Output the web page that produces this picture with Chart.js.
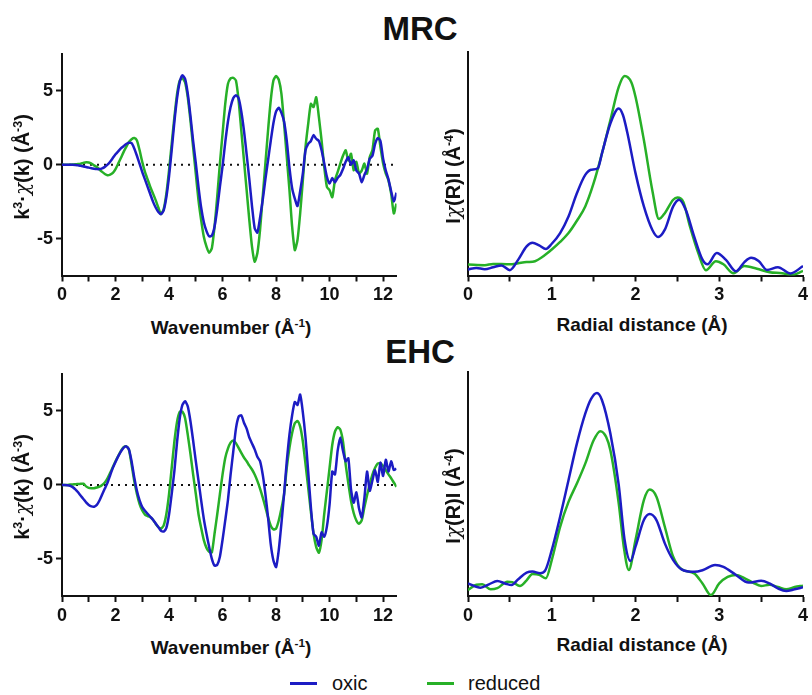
<!DOCTYPE html>
<html>
<head>
<meta charset="utf-8">
<script src="https://cdn.jsdelivr.net/npm/chart.js@4.4.1/dist/chart.umd.min.js"></script>
<style>
  html, body { margin: 0; padding: 0; background: #fff; }
  #page { position: relative; width: 812px; height: 695px; font-family: "Liberation Sans", Arial, sans-serif; color: #111; overflow: hidden; }
  #page canvas { position: absolute; }
  .title { position: absolute; font-weight: bold; font-size: 33px; transform: translate(-50%, -50%); white-space: nowrap; }
  .xlab { position: absolute; font-weight: bold; font-size: 19px; transform: translate(-50%, -50%); white-space: nowrap; }
  .ylab { position: absolute; font-weight: bold; font-size: 20px; transform: translate(-50%, -50%) rotate(-90deg); white-space: nowrap; }
  sup { font-size: 0.62em; vertical-align: 0.6em; line-height: 0; }
  .chi { font-family: "DejaVu Serif", serif; font-style: italic; font-weight: normal; }
  .leg-line { position: absolute; height: 3px; }
  .leg-text { position: absolute; font-size: 20px; transform: translateY(-50%); }
</style>
</head>
<body>
<div id="page">
  <div class="title" style="left:420px; top:29px;">MRC</div>
  <div class="title" style="left:420px; top:352px;">EHC</div>

  <canvas id="mrcK" width="410" height="270" style="left:0; top:40px;"></canvas>
  <canvas id="mrcR" width="402" height="270" style="left:410px; top:40px;"></canvas>
  <canvas id="ehcK" width="410" height="270" style="left:0; top:360px;"></canvas>
  <canvas id="ehcR" width="402" height="270" style="left:410px; top:360px;"></canvas>

  <div class="ylab" style="left:22px; top:167px;">k<sup>3</sup>·<span class="chi">χ</span>(k) (Å<sup>-3</sup>)</div>
  <div class="ylab" style="left:453px; top:176px;">I<span class="chi">χ</span>(R)I (Å<sup>-4</sup>)</div>
  <div class="ylab" style="left:22px; top:487px;">k<sup>3</sup>·<span class="chi">χ</span>(k) (Å<sup>-3</sup>)</div>
  <div class="ylab" style="left:453px; top:496px;">I<span class="chi">χ</span>(R)I (Å<sup>-4</sup>)</div>

  <div class="xlab" style="left:231px; top:328px;">Wavenumber (Å<sup>-1</sup>)</div>
  <div class="xlab" style="left:642px; top:325px;">Radial distance (Å)</div>
  <div class="xlab" style="left:231px; top:648px;">Wavenumber (Å<sup>-1</sup>)</div>
  <div class="xlab" style="left:642px; top:645px;">Radial distance (Å)</div>

  <div class="leg-line" style="left:290px; top:682px; width:27px; background:#1c1cc4;"></div>
  <div class="leg-text" style="left:332px; top:683px;">oxic</div>
  <div class="leg-line" style="left:427px; top:682px; width:27px; background:#27b027;"></div>
  <div class="leg-text" style="left:468px; top:683px;">reduced</div>
</div>

<script>
// k-space grid shared by both χ(k) panels: 0 .. 12.5 Å⁻¹ in 0.1 steps
const kGrid = Array.from({ length: 126 }, (_, i) => i / 10);
const kTicks = [0, 1, 2, 3, 4, 5, 6, 7, 8, 9, 10, 11, 12];
const kYTicks = [-5, 0, 5];
const rTicks = [0, 0.5, 1, 1.5, 2, 2.5, 3, 3.5, 4];

// MRC, k³·χ(k)
const mrcOxic = [
  0, 0, 0, 0, 0, -0.02, -0.05, -0.08, -0.12, -0.16,
  -0.2, -0.25, -0.28, -0.3, -0.3, -0.25, -0.15, 0.0, 0.2, 0.45,
  0.7, 0.9, 1.1, 1.25, 1.4, 1.48, 1.45, 1.1, 0.6, 0.05,
  -0.5, -1.0, -1.5, -2.0, -2.5, -2.9, -3.2, -3.35, -3.1, -2.2,
  -0.8, 1.0, 2.9, 4.5, 5.6, 6.05, 5.8, 4.8, 3.3, 1.6,
  0.1, -1.5, -2.9, -3.9, -4.5, -4.85, -4.8, -4.2, -3.0, -1.5,
  -0.1, 1.5, 2.9, 3.9, 4.5, 4.7, 4.5, 3.6, 2.3, 0.7,
  -1.0, -2.8, -4.3, -4.6, -3.6, -2.4, -1.0, 0.3, 1.6, 2.8,
  3.6, 3.85, 3.5, 2.9, 1.6, -0.2, -1.6, -2.3, -2.8, -1.8,
  -0.6, 0.97, 1.4, 1.6, 2.0, 1.75, 1.6, 0.97, 0.07, -0.83,
  -1.28, -0.9, -1.2, -0.9, -0.7, -0.3, 0.2, 0.5, 0.0, 0.3,
  -0.4, -0.6, -1.2, -0.7, -0.3, 0.4, 0.6, 1.4, 1.8, 1.6,
  0.4, -0.4, -1.0, -1.8, -2.5, -1.9
];
const mrcReduced = [
  0, 0, 0, 0, 0.01, 0.02, 0.04, 0.07, 0.12, 0.16,
  0.14, 0.07, -0.05, -0.16, -0.33, -0.49, -0.63, -0.72, -0.68, -0.56,
  -0.3, 0.07, 0.45, 0.85, 1.2, 1.53, 1.72, 1.8, 1.64, 0.97,
  0.18, -0.49, -1.0, -1.51, -1.95, -2.4, -2.9, -3.35, -3.0, -1.96,
  -0.38, 1.42, 3.21, 4.79, 5.69, 5.84, 5.57, 4.56, 2.99, 1.19,
  -0.61, -2.4, -3.75, -4.88, -5.55, -5.96, -5.66, -4.2, -2.18, 0.07,
  2.09, 4.11, 5.46, 5.84, 5.87, 5.69, 4.34, 2.31, 0.29, -1.73,
  -3.75, -5.55, -6.56, -6.0, -4.43, -2.18, 0.07, 2.31, 4.34, 5.69,
  6.0, 5.75, 4.79, 2.76, 0.52, -1.73, -4.2, -5.78, -5.1, -3.3,
  -1.06, 1.19, 2.76, 4.11, 3.9, 4.56, 3.21, 1.64, -0.16, -1.51,
  -1.73, -2.2, -1.06, -0.5, 0.07, 0.6, 0.97, 0.29, 0.74, -0.38,
  0.2, -0.61, -0.4, 0.07, -0.61, 0.52, 0.97, 2.31, 2.43, 1.19,
  0.07, -0.61, -1.06, -1.96, -3.3, -2.63
];

// EHC, k³·χ(k)
const ehcOxic = [
  0, 0, -0.02, -0.06, -0.15, -0.3, -0.5, -0.73, -0.95, -1.18,
  -1.35, -1.45, -1.47, -1.35, -1.05, -0.65, -0.25, 0.15, 0.65, 1.15,
  1.55, 1.93, 2.25, 2.5, 2.6, 2.4, 1.6, 0.5, -0.4, -1.05,
  -1.5, -1.75, -1.95, -2.15, -2.35, -2.6, -2.85, -3.1, -3.15, -2.9,
  -2.0, -0.6, 0.95, 2.9, 4.5, 5.4, 5.65, 5.3, 4.3, 3.0,
  1.6, 0.3, -1.05, -2.3, -3.3, -4.2, -5.0, -5.45, -5.4, -4.85,
  -3.7, -2.4, -1.05, 0.7, 2.25, 3.8, 4.6, 4.7, 4.2, 3.8,
  3.2, 2.8, 2.4, 1.9, 1.6, 0.7, -0.6, -2.2, -4.0, -5.1,
  -5.55, -4.4, -2.6, -0.6, 1.6, 3.4, 4.7, 5.6, 5.4, 6.1,
  4.9, 3.2, 0.9, -1.5, -3.3, -3.5, -4.1, -3.2, -3.5, -2.8,
  -1.3, 0.9, 0.7, 2.3, 3.2, 2.3, 1.6, 1.8, -0.3, -1.2,
  -0.5, -1.6, -2.2, -0.9, 0.9, -0.4, 0.3, 1.0, 0.2, 1.5,
  0.6, 1.7, 0.9, 1.6, 1.0, 1.1
];
const ehcReduced = [
  0, 0, 0, 0.02, 0.03, 0.05, 0.06, 0.07, 0.08, -0.1,
  -0.2, -0.22, -0.22, -0.18, -0.12, 0.0, 0.16, 0.45, 0.82, 1.2,
  1.6, 1.95, 2.3, 2.55, 2.6, 2.38, 1.38, 0.27, -0.62, -1.3,
  -1.73, -2.0, -2.1, -2.18, -2.35, -2.62, -2.85, -2.96, -2.73, -1.96,
  -0.62, 1.16, 2.93, 4.27, 4.93, 4.95, 4.5, 3.38, 2.1, 0.71,
  -0.6, -1.96, -2.9, -3.73, -4.25, -4.51, -4.55, -3.29, -2.0, -0.62,
  0.71, 1.82, 2.45, 2.85, 3.0, 2.82, 2.5, 2.16, 1.85, 1.6,
  1.3, 1.04, 0.7, 0.27, -0.25, -0.84, -1.5, -2.18, -2.75, -3.0,
  -2.95, -2.4, -1.6, -0.62, 1.16, 2.5, 3.5, 4.16, 4.31, 3.93,
  2.93, 1.4, -0.18, -1.8, -3.29, -4.2, -4.58, -3.73, -1.96, -0.4,
  1.16, 2.71, 3.6, 3.89, 3.73, 2.93, 1.38, 0.1, -1.07, -1.9,
  -2.4, -2.62, -2.4, -1.51, -0.7, 0.04, 0.7, 1.16, 1.45, 1.45,
  1.27, 1.0, 0.71, 0.45, 0.16, -0.13
];

// MRC, |χ(R)| (arbitrary units, axis 0..10)
const mrcOxicR = [0, 0.1, 0.2, 0.3, 0.4, 0.5, 0.6, 0.7, 0.77, 0.85, 0.93, 1.0, 1.1, 1.2, 1.3, 1.4, 1.47, 1.55, 1.6, 1.7, 1.8, 1.85, 1.9, 2.0, 2.1, 2.2, 2.27, 2.35, 2.45, 2.52, 2.6, 2.7, 2.8, 2.86, 2.97, 3.08, 3.2, 3.3, 3.38, 3.47, 3.57, 3.7, 3.85, 4.0];
const mrcOxicMag = [0.27, 0.34, 0.28, 0.37, 0.45, 0.24, 0.71, 1.3, 1.46, 1.35, 1.19, 1.42, 1.9, 2.64, 3.68, 4.5, 4.73, 4.8, 5.47, 6.8, 7.47, 7.18, 6.43, 4.58, 3.09, 2.05, 1.72, 2.05, 3.09, 3.39, 2.94, 1.75, 0.71, 0.5, 1.01, 0.7, 0.19, 0.6, 0.79, 0.65, 0.25, 0.37, 0.09, 0.42];
const mrcReducedR = [0, 0.2, 0.3, 0.5, 0.6, 0.7, 0.8, 0.9, 1.0, 1.1, 1.2, 1.3, 1.4, 1.5, 1.6, 1.7, 1.8, 1.87, 1.95, 2.0, 2.1, 2.2, 2.28, 2.35, 2.45, 2.5, 2.57, 2.65, 2.75, 2.84, 2.96, 3.05, 3.17, 3.3, 3.45, 3.6, 3.75, 3.87, 4.0];
const mrcReducedMag = [0.49, 0.46, 0.52, 0.5, 0.55, 0.6, 0.64, 0.86, 1.16, 1.5, 1.9, 2.45, 3.09, 4.13, 5.47, 6.95, 8.44, 8.93, 8.65, 8.0, 6.06, 3.83, 2.53, 2.79, 3.39, 3.49, 3.3, 2.2, 1.0, 0.24, 0.64, 0.5, 0.1, 0.42, 0.3, 0.15, 0.1, 0.02, 0.2];

// EHC, |χ(R)|
const ehcOxicR = [0, 0.15, 0.25, 0.35, 0.45, 0.52, 0.6, 0.7, 0.77, 0.86, 0.92, 1.0, 1.1, 1.2, 1.3, 1.4, 1.47, 1.54, 1.6, 1.7, 1.8, 1.87, 1.94, 2.0, 2.1, 2.17, 2.25, 2.35, 2.45, 2.55, 2.7, 2.8, 2.95, 3.05, 3.2, 3.35, 3.5, 3.6, 3.7, 3.8, 3.9, 4.0];
const ehcOxicMag = [0.56, 0.37, 0.52, 0.67, 0.55, 0.49, 0.75, 1.04, 1.09, 1.02, 1.13, 2.05, 3.54, 5.17, 6.8, 8.14, 8.8, 9.06, 8.74, 7.25, 4.95, 2.5, 1.56, 2.2, 3.39, 3.66, 3.39, 2.35, 1.6, 1.19, 1.08, 1.15, 1.38, 1.3, 0.94, 0.6, 0.68, 0.56, 0.34, 0.22, 0.3, 0.39];
const ehcReducedR = [0, 0.1, 0.17, 0.27, 0.35, 0.47, 0.53, 0.62, 0.7, 0.77, 0.85, 0.93, 1.0, 1.1, 1.2, 1.3, 1.4, 1.5, 1.58, 1.65, 1.7, 1.8, 1.86, 1.92, 2.0, 2.1, 2.17, 2.25, 2.35, 2.45, 2.55, 2.7, 2.8, 2.9, 3.0, 3.1, 3.2, 3.3, 3.4, 3.5, 3.6, 3.7, 3.8, 3.9, 4.0];
const ehcReducedMag = [0.27, 0.5, 0.52, 0.3, 0.35, 0.64, 0.62, 0.45, 0.7, 0.98, 0.95, 0.79, 1.6, 3.09, 4.2, 5.02, 5.91, 6.95, 7.36, 7.1, 6.51, 4.13, 2.2, 1.16, 2.5, 4.28, 4.75, 4.43, 3.09, 1.75, 1.19, 1.01, 0.56, 0.04, 0.56, 0.85, 0.94, 0.8, 0.6, 0.45, 0.5, 0.4, 0.3, 0.4, 0.46];

const OXIC = "#1c1cc4";
const REDUCED = "#27b027";
const INK = "#111";

function pairs(xs, ys) {
  return xs.map((x, i) => ({ x: x, y: ys[i] }));
}

function line(data, color, extra) {
  return Object.assign({
    data: data,
    borderColor: color,
    borderWidth: 2.5,
    pointRadius: 0,
    fill: false,
    tension: 0.2
  }, extra || {});
}

function axis(extra) {
  return Object.assign({
    type: "linear",
    border: { display: true, color: INK, width: 2 },
    grid: { display: true, drawOnChartArea: false, drawTicks: true, tickLength: 6, tickWidth: 2, tickColor: INK },
    ticks: {
      color: INK,
      font: { family: "Liberation Sans", size: 18, weight: "bold" },
      padding: 3,
      maxRotation: 0,
      autoSkip: false
    }
  }, extra);
}

function makeChart(id, datasets, xTicks, xMax, labelStep, yMin, yMax, yTicks, yWidth, pad) {
  const xScale = axis({
    min: 0,
    max: xMax,
    afterBuildTicks: s => { s.ticks = xTicks.map(v => ({ value: v })); },
    afterFit: s => { s.height = pad.xh; }
  });
  // minor ticks keep their mark but get no label
  xScale.ticks.callback = v => (Math.abs(v / labelStep - Math.round(v / labelStep)) < 1e-6 ? String(v) : "");

  const yScale = axis({
    min: yMin,
    max: yMax,
    afterBuildTicks: s => { s.ticks = yTicks.map(v => ({ value: v })); },
    afterFit: s => { s.width = yWidth; }
  });
  if (yTicks.length === 0) {
    yScale.ticks.display = false;
    yScale.grid.drawTicks = false;
  }

  return new Chart(document.getElementById(id), {
    type: "line",
    data: { datasets: datasets },
    options: {
      responsive: false,
      animation: false,
      layout: { padding: { top: pad.top, right: pad.right, left: 0, bottom: 0 } },
      plugins: { legend: { display: false }, tooltip: { enabled: false } },
      scales: { x: xScale, y: yScale }
    }
  });
}

// dotted zero reference in k-space
const zeroLine = () => line([{ x: 0, y: 0 }, { x: 12.5, y: 0 }], INK, { borderWidth: 2, borderDash: [2, 5], tension: 0 });

makeChart("mrcK", [
  line(pairs(kGrid, mrcOxic), OXIC),
  line(pairs(kGrid, mrcReduced), REDUCED),
  zeroLine()
], kTicks, 12.5, 2, -7.5, 7.5, kYTicks, 62, { top: 12.7, right: 13.5, xh: 34.5 });

makeChart("ehcK", [
  line(pairs(kGrid, ehcOxic), OXIC),
  line(pairs(kGrid, ehcReduced), REDUCED),
  zeroLine()
], kTicks, 12.5, 2, -7.5, 7.5, kYTicks, 62, { top: 12, right: 13.5, xh: 34 });

makeChart("mrcR", [
  line(pairs(mrcOxicR, mrcOxicMag), OXIC, { cubicInterpolationMode: "monotone" }),
  line(pairs(mrcReducedR, mrcReducedMag), REDUCED, { cubicInterpolationMode: "monotone" })
], rTicks, 4, 1, 0, 10, [], 58, { top: 12, right: 9, xh: 34.5 });

makeChart("ehcR", [
  line(pairs(ehcOxicR, ehcOxicMag), OXIC, { cubicInterpolationMode: "monotone" }),
  line(pairs(ehcReducedR, ehcReducedMag), REDUCED, { cubicInterpolationMode: "monotone" })
], rTicks, 4, 1, 0, 10, [], 58, { top: 12, right: 9, xh: 34 });
</script>
</body>
</html>
